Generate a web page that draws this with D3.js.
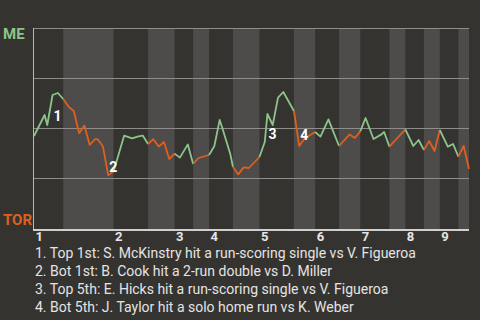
<!DOCTYPE html>
<html>
<head>
<meta charset="utf-8">
<script src="https://cdn.jsdelivr.net/npm/d3@7/dist/d3.min.js"></script>
<style>
html, body { margin: 0; padding: 0; background: #353330; }
svg { display: block; font-family: Roboto, "Noto Sans", sans-serif; }
</style>
</head>
<body>
<svg id="chart" width="480" height="320"></svg>
<script>
// teams: top of chart = away (ME), bottom = home (TOR)
var teams = ["ME", "TOR"];
var innings = ["1", "2", "3", "4", "5", "6", "7", "8", "9"];
// plays in each half inning (top 1st, bot 1st, top 2nd ...)
var halfCounts = [11, 19, 13, 10, 7, 6, 9, 10, 13, 8, 9, 8, 11, 6, 7, 6, 7, 4];

// ME win probability after play n
var playIndex = [0, 4, 5, 7, 9, 11, 13, 15, 17, 19, 21, 23, 24, 26, 28, 30,
	34, 37, 39, 41, 43, 45, 47, 49, 51, 53, 55, 58, 60, 62, 66,
	68, 70, 71, 74, 75, 77, 79, 81, 85, 87, 88, 90, 92, 94, 98,
	100, 102, 106, 108, 111, 115, 119, 121, 123, 125, 128, 131, 132, 134,
	137, 140, 143, 145, 147, 149, 151, 153, 156, 158, 160, 162, 164];
var meWinProb = [0.46, 0.565, 0.515, 0.665, 0.675, 0.645, 0.607, 0.585, 0.474, 0.512, 0.415, 0.444, 0.444, 0.407, 0.263, 0.283,
	0.462, 0.448, 0.457, 0.462, 0.42, 0.444, 0.407, 0.43, 0.345, 0.372, 0.352, 0.418, 0.32, 0.35, 0.365,
	0.41, 0.54, 0.5, 0.37, 0.306, 0.268, 0.303, 0.3, 0.355, 0.43, 0.57, 0.515, 0.652, 0.68, 0.585,
	0.41, 0.448, 0.48, 0.457, 0.543, 0.41, 0.468, 0.45, 0.483, 0.55, 0.445, 0.468, 0.48, 0.407,
	0.45, 0.493, 0.41, 0.44, 0.39, 0.435, 0.385, 0.49, 0.407, 0.42, 0.357, 0.41, 0.295];

// scoring plays
var noteIndex = [7, 28, 88, 100];
var noteText = [
	"Top 1st: S. McKinstry hit a run-scoring single vs V. Figueroa",
	"Bot 1st: B. Cook hit a 2-run double vs D. Miller",
	"Top 5th: E. Hicks hit a run-scoring single vs V. Figueroa",
	"Bot 5th: J. Taylor hit a solo home run vs K. Weber"
];

var green = "#8cc48a", orange = "#df5f1e";
var svg = d3.select("#chart");
var total = d3.sum(halfCounts);
var starts = [0];
halfCounts.forEach(function(c, i) { starts.push(starts[i] + c); });

var x = d3.scaleLinear().domain([0, total]).range([34, 469]);
var y = d3.scaleLinear().domain([0, 1]).range([228, 28]);

// bottom half bands
svg.append("g").selectAll("rect")
	.data(halfCounts.map(function(c, i) { return i; }).filter(function(i) { return i % 2 == 1; }))
	.enter().append("rect")
	.attr("x", function(i) { return x(starts[i]); })
	.attr("width", function(i) { return x(starts[i + 1]) - x(starts[i]); })
	.attr("y", y(1))
	.attr("height", 230 - y(1))
	.attr("fill", "#4d4c4a");

// grid
var grid = svg.append("g").attr("transform", "translate(33,0)")
	.call(d3.axisLeft(y).tickValues([0.25, 0.5, 0.75, 1]).tickSize(-436).tickFormat(""));
grid.select(".domain").remove();
grid.selectAll("line").attr("stroke", "#8e8d8b").attr("stroke-width", 1);

svg.append("line").attr("x1", 33.5).attr("x2", 33.5).attr("y1", y(1)).attr("y2", 230)
	.attr("stroke", "#b8b8b6");

// inning axis
var xAxis = svg.append("g").attr("transform", "translate(0,230)")
	.call(d3.axisBottom(x).tickValues(innings.map(function(d, i) { return starts[i * 2]; }))
		.tickSize(0).tickFormat(function(d, i) { return innings[i]; }));
xAxis.select(".domain").attr("d", "M33,0H469").attr("stroke", "#d0d0d0").attr("stroke-width", 2);
xAxis.selectAll("text")
	.attr("text-anchor", "start").attr("dx", 1).attr("y", 11).attr("dy", 0)
	.attr("fill", "#e6e6e6").style("font-size", "13px").style("font-weight", "bold")
	.style("font-family", "Roboto");

// win probability line, split into runs by batting team
function halfOf(p) {
	return d3.bisectRight(starts, p) - 1;
}
var pts = playIndex.map(function(p, i) { return [p, meWinProb[i]]; });
var runs = [];
for (var i = 1; i < pts.length; i++) {
	var h = halfOf((pts[i - 1][0] + pts[i][0]) / 2);
	var last = runs[runs.length - 1];
	if (last && last.half == h) last.pts.push(pts[i]);
	else runs.push({ half: h, pts: [pts[i - 1], pts[i]] });
}
var line = d3.line().x(function(d) { return x(d[0]); }).y(function(d) { return y(d[1]); });
svg.append("g").selectAll("path").data(runs).enter().append("path")
	.attr("d", function(r) { return line(r.pts); })
	.attr("fill", "none")
	.attr("stroke", function(r) { return r.half % 2 == 0 ? green : orange; })
	.attr("stroke-width", 1.8)
	.attr("stroke-linejoin", "round");

// numbered markers
svg.append("g").selectAll("text").data(noteIndex).enter().append("text")
	.attr("x", function(p) { return x(p) + 1; })
	.attr("y", function(p) {
		var k = playIndex.indexOf(p);
		return (y(meWinProb[k]) + y(meWinProb[k - 1])) / 2 + 11;
	})
	.attr("fill", "#ffffff").style("font-size", "14px").style("font-weight", "bold")
	.text(function(p, i) { return i + 1; });

// team labels
svg.append("text").attr("x", 3).attr("y", 39).attr("fill", green)
	.style("font-size", "15px").style("font-weight", "bold").text(teams[0]);
svg.append("text").attr("x", 3).attr("y", 225).attr("fill", orange)
	.style("font-size", "15px").style("font-weight", "bold").text(teams[1]);

// notes
svg.append("g").selectAll("text").data(noteText).enter().append("text")
	.attr("x", 35)
	.attr("y", function(d, i) { return 258 + i * 18; })
	.attr("fill", "#e4e4e4").style("font-size", "14px")
	.text(function(d, i) { return (i + 1) + ". " + d; });
</script>
</body>
</html>
